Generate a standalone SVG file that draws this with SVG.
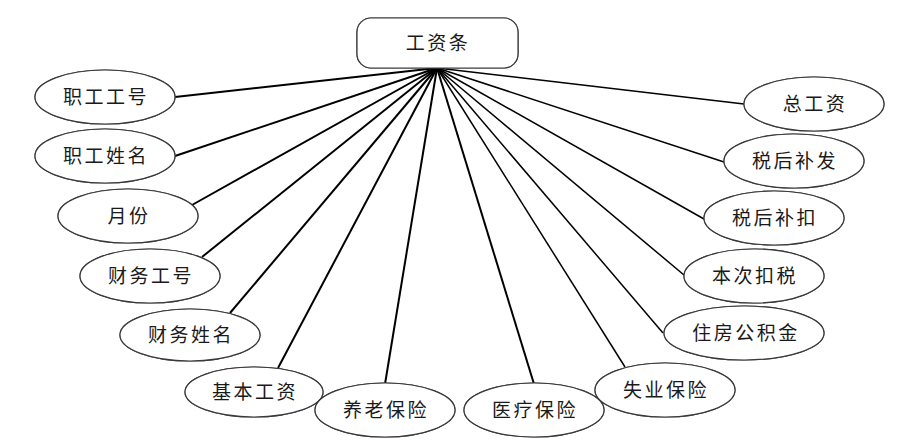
<svg xmlns="http://www.w3.org/2000/svg" width="924" height="448" viewBox="0 0 924 448">
<style>
.n ellipse, .n rect { fill: #ffffff; stroke: #3a3a3a; stroke-width: 1.2; }
.glow { fill: none; stroke: #e4edf8; stroke-width: 4; }
text { font-family: "Noto Sans CJK SC", "Noto Sans CJK JP", sans-serif; font-size: 19px; letter-spacing: 2.5px; fill: #1a1a1a; text-anchor: middle; }
.l line { stroke: #000; stroke-width: 2; }
.r line { stroke: #000; stroke-width: 1.5; }
</style>
<g id="connectors">
<g class="l">
<line x1="437" y1="68" x2="175" y2="97"/>
<line x1="437" y1="68" x2="175" y2="156"/>
<line x1="437" y1="68" x2="192" y2="205"/>
<line x1="437" y1="68" x2="202" y2="257"/>
<line x1="437" y1="68" x2="230" y2="313"/>
<line x1="437" y1="68" x2="278" y2="368"/>
<line x1="437" y1="68" x2="385" y2="384"/>
<line x1="437" y1="68" x2="534" y2="384"/>
</g>
<g class="r">
<line x1="437" y1="68" x2="625" y2="367"/>
<line x1="437" y1="68" x2="663" y2="333"/>
<line x1="437" y1="68" x2="684" y2="275"/>
<line x1="437" y1="68" x2="704" y2="219"/>
<line x1="437" y1="68" x2="724" y2="162"/>
<line x1="437" y1="68" x2="744" y2="104"/>
</g>
</g>
<g id="root" class="n">
<rect class="glow" x="357" y="18" width="161" height="50" rx="14"/>
<rect x="357" y="18" width="161" height="50" rx="14"/>
<text x="438" y="50">工资条</text>
</g>
<g id="e1" class="n"><ellipse class="glow" cx="105" cy="97" rx="70" ry="27"/><ellipse cx="105" cy="97" rx="70" ry="27"/><text x="106" y="104">职工工号</text></g>
<g id="e2" class="n"><ellipse class="glow" cx="105" cy="156" rx="70" ry="27"/><ellipse cx="105" cy="156" rx="70" ry="27"/><text x="106" y="163">职工姓名</text></g>
<g id="e3" class="n"><ellipse class="glow" cx="128" cy="216" rx="70" ry="27"/><ellipse cx="128" cy="216" rx="70" ry="27"/><text x="129" y="223">月份</text></g>
<g id="e4" class="n"><ellipse class="glow" cx="150" cy="276" rx="70" ry="27"/><ellipse cx="150" cy="276" rx="70" ry="27"/><text x="151" y="283">财务工号</text></g>
<g id="e5" class="n"><ellipse class="glow" cx="190" cy="335" rx="70" ry="26"/><ellipse cx="190" cy="335" rx="70" ry="26"/><text x="191" y="342">财务姓名</text></g>
<g id="e6" class="n"><ellipse class="glow" cx="254" cy="392" rx="69" ry="25"/><ellipse cx="254" cy="392" rx="69" ry="25"/><text x="255" y="399">基本工资</text></g>
<g id="e7" class="n"><ellipse class="glow" cx="385" cy="410" rx="70" ry="27"/><ellipse cx="385" cy="410" rx="70" ry="27"/><text x="386" y="417">养老保险</text></g>
<g id="e8" class="n"><ellipse class="glow" cx="534" cy="410" rx="70" ry="27"/><ellipse cx="534" cy="410" rx="70" ry="27"/><text x="535" y="417">医疗保险</text></g>
<g id="e9" class="n"><ellipse class="glow" cx="665" cy="390" rx="70" ry="27"/><ellipse cx="665" cy="390" rx="70" ry="27"/><text x="666" y="397">失业保险</text></g>
<g id="e10" class="n"><ellipse class="glow" cx="744" cy="333" rx="80" ry="27"/><ellipse cx="744" cy="333" rx="80" ry="27"/><text x="746" y="340">住房公积金</text></g>
<g id="e11" class="n"><ellipse class="glow" cx="754" cy="276" rx="70" ry="27"/><ellipse cx="754" cy="276" rx="70" ry="27"/><text x="755" y="283">本次扣税</text></g>
<g id="e12" class="n"><ellipse class="glow" cx="774" cy="218" rx="70" ry="27"/><ellipse cx="774" cy="218" rx="70" ry="27"/><text x="775" y="225">税后补扣</text></g>
<g id="e13" class="n"><ellipse class="glow" cx="794" cy="161" rx="70" ry="27"/><ellipse cx="794" cy="161" rx="70" ry="27"/><text x="795" y="168">税后补发</text></g>
<g id="e14" class="n"><ellipse class="glow" cx="814" cy="104" rx="70" ry="27"/><ellipse cx="814" cy="104" rx="70" ry="27"/><text x="815" y="111">总工资</text></g>
</svg>
